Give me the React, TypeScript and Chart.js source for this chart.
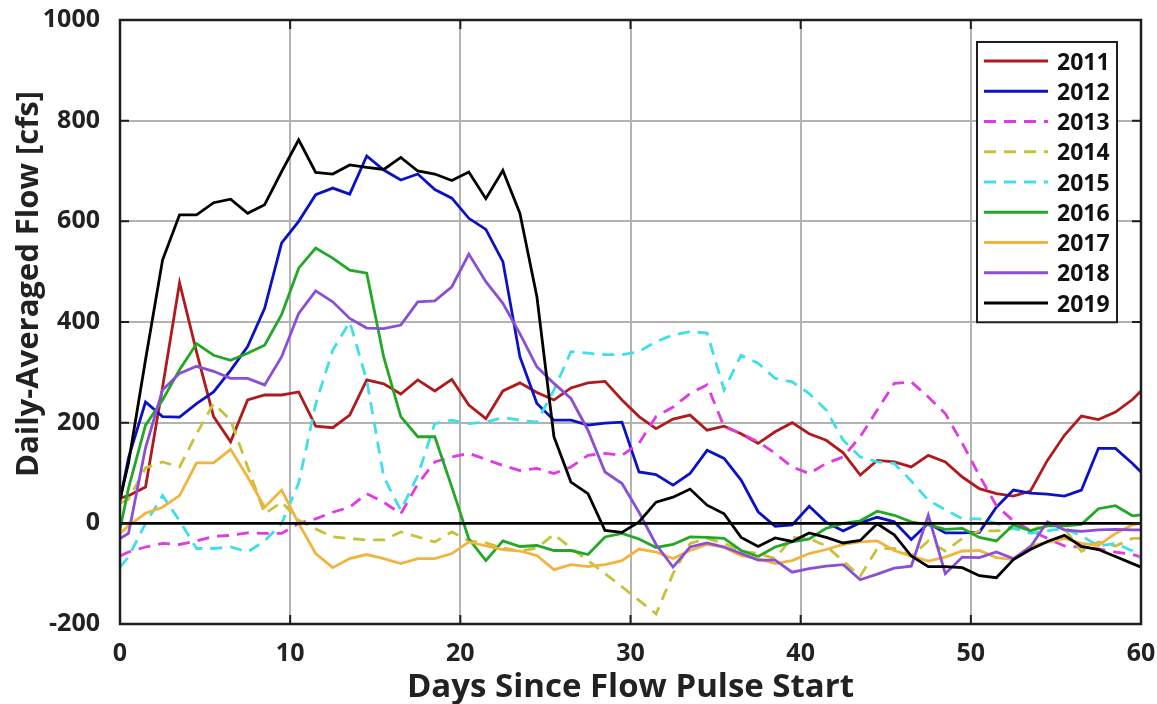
import React, { useEffect, useRef } from "react";
import { Chart, registerables } from "chart.js";

Chart.register(...registerables);

const FONT = "'Open Sans', 'DejaVu Sans', sans-serif";

// Sample times (days since the pulse started): the start, then daily half-day averages, then the end.
const days = [
  0, 0.5, 1.5, 2.5, 3.5, 4.5, 5.5, 6.5, 7.5, 8.5,
  9.5, 10.5, 11.5, 12.5, 13.5, 14.5, 15.5, 16.5, 17.5, 18.5,
  19.5, 20.5, 21.5, 22.5, 23.5, 24.5, 25.5, 26.5, 27.5, 28.5,
  29.5, 30.5, 31.5, 32.5, 33.5, 34.5, 35.5, 36.5, 37.5, 38.5,
  39.5, 40.5, 41.5, 42.5, 43.5, 44.5, 45.5, 46.5, 47.5, 48.5,
  49.5, 50.5, 51.5, 52.5, 53.5, 54.5, 55.5, 56.5, 57.5, 58.5,
  59.5, 60,
];

// Daily-averaged flow [cfs] per pulse year
const flow2011 = [
  50, 55, 72, 270, 478, 340, 212, 162, 245, 255,
  255, 261, 193, 190, 215, 285, 277, 257, 285, 263,
  286, 235, 208, 263, 279, 260, 245, 269, 279, 282,
  245, 212, 188, 207, 215, 185, 193, 178, 159, 182,
  200, 178, 165, 140, 96, 125, 122, 112, 135, 122,
  92, 69, 59, 54, 64, 125, 175, 213, 206, 221,
  246, 263,
];
const flow2012 = [
  45, 130, 241, 212, 211, 238, 261, 304, 351, 427,
  557, 600, 653, 666, 654, 730, 702, 682, 694, 663,
  646, 606, 584, 520, 331, 238, 205, 205, 195, 199,
  201, 102, 97, 76, 99, 145, 129, 86, 23, -6,
  -3, 34, 2, -15, 1, 12, 3, -32, 0, -19,
  -19, -18, 32, 66, 60, 58, 54, 66, 149, 149,
  119, 102,
];
const flow2013 = [
  -65, -57, -47, -40, -42, -35, -26, -24, -19, -20,
  -20, 0, 9, 22, 32, 59, 42, 19, 78, 122,
  132, 139, 127, 115, 105, 109, 99, 112, 135, 139,
  135, 159, 212, 231, 258, 275, 192, 178, 162, 139,
  112, 99, 119, 132, 172, 225, 278, 281, 251, 218,
  159, 95, 35, 5, -14, -30, -45, -47, -51, -57,
  -62, -67,
];
const flow2014 = [
  40, 48, 110, 122, 112, 178, 238, 205, 112, 19,
  42, 6, -11, -27, -30, -33, -33, -17, -27, -37,
  -17, -35, -39, -49, -55, -49, -22, -49, -74, -100,
  -126, -153, -180, -100, -40, -30, -40, -55, -60, -70,
  -28, -30, -45, -75, -105, -50, -50, -65, -35, -55,
  -30, -15, -15, -10, -15, 0, -10, -56, -37, -45,
  -30, -30,
];
const flow2015 = [
  -87, -67, 0, 55, 5, -50, -50, -47, -57, -35,
  0, 80, 237, 344, 400, 284, 92, 26, 95, 198,
  205, 198, 201, 210, 205, 201, 265, 341, 338, 335,
  335, 341, 361, 374, 381, 378, 265, 334, 318, 288,
  281, 258, 225, 165, 132, 122, 119, 84, 46, 27,
  9, 9, 0, -10, -20, -15, -10, -25, -45, -40,
  -55, -70,
];
const flow2016 = [
  -12, 70, 195, 245, 305, 357, 334, 324, 338, 354,
  415, 507, 547, 527, 503, 497, 330, 212, 172, 172,
  72, -31, -74, -35, -46, -44, -54, -54, -62, -27,
  -20, -31, -48, -42, -27, -28, -30, -54, -66, -47,
  -37, -31, -10, 0, 5, 24, 16, 3, -3, -12,
  -10, -28, -35, -3, -15, -5, -5, -2, 29, 35,
  15, 17,
];
const flow2017 = [
  -20, -5, 20, 32, 55, 120, 120, 147, 92, 32,
  66, 0, -60, -88, -70, -62, -70, -80, -70, -70,
  -60, -37, -45, -52, -55, -64, -92, -82, -86, -82,
  -74, -51, -57, -70, -54, -42, -48, -64, -70, -80,
  -74, -60, -52, -42, -37, -35, -54, -65, -75, -67,
  -55, -54, -68, -72, -45, -38, -30, -40, -44, -20,
  -3, 0,
];
const flow2018 = [
  -30, -20, 150, 265, 298, 312, 302, 288, 288, 275,
  331, 417, 462, 440, 407, 388, 387, 394, 440, 442,
  470, 535, 480, 437, 377, 311, 278, 248, 185, 102,
  79, 22, -42, -87, -47, -39, -47, -60, -73, -73,
  -97, -90, -85, -82, -112, -101, -89, -85, 16, -100,
  -67, -68, -57, -70, -47, 3, -13, -16, -13, -12,
  -13, -13,
];
const flow2019 = [
  48, 120, 325, 523, 613, 613, 637, 644, 616, 633,
  699, 762, 697, 694, 712, 707, 703, 727, 700, 694,
  681, 698, 645, 701, 616, 450, 172, 82, 59, -14,
  -18, 3, 42, 52, 68, 36, 19, -28, -46, -29,
  -36, -19, -28, -39, -34, -1, -23, -65, -86, -86,
  -88, -104, -108, -72, -52, -36, -24, -46, -52, -66,
  -80, -87,
];

const years = ["2011", "2012", "2013", "2014", "2015", "2016", "2017", "2018", "2019"];
const seriesValues = [flow2011, flow2012, flow2013, flow2014, flow2015, flow2016, flow2017, flow2018, flow2019];
const lineColors = ["#b01a1c", "#0b12c6", "#e03ae4", "#c6c23a", "#40dfe8", "#22a826", "#f1b43e", "#8b4fd6", "#000000"];
const isDashed = [false, false, true, true, true, false, false, false, false];

const xTicks = [0, 10, 20, 30, 40, 50, 60];
const yTicks = [-200, 0, 200, 400, 600, 800, 1000];

const yTitle = "Daily-Averaged Flow [cfs]";

const DASH = [12, 8];

// Axes box with inward tick marks, the y label, and the boxed legend.
const boxPlugin = {
  id: "boxFrame",
  afterDatasetsDraw(chart: any) {
    const { ctx, chartArea: a, scales } = chart;
    ctx.save();
    ctx.strokeStyle = "#1e1e1e";
    ctx.lineWidth = 2.5;
    ctx.strokeRect(a.left, a.top, a.right - a.left, a.bottom - a.top);
    ctx.lineWidth = 2;
    const len = 9;
    ctx.beginPath();
    for (const t of xTicks) {
      const px = scales.x.getPixelForValue(t);
      ctx.moveTo(px, a.bottom);
      ctx.lineTo(px, a.bottom - len);
      ctx.moveTo(px, a.top);
      ctx.lineTo(px, a.top + len);
    }
    for (const t of yTicks) {
      const py = scales.y.getPixelForValue(t);
      ctx.moveTo(a.left, py);
      ctx.lineTo(a.left + len, py);
      ctx.moveTo(a.right, py);
      ctx.lineTo(a.right - len, py);
    }
    ctx.stroke();
    ctx.restore();
  },
  afterDraw(chart: any) {
    const { ctx, chartArea: a } = chart;

    // y-axis label
    ctx.save();
    ctx.translate(29, 284);
    ctx.rotate(-Math.PI / 2);
    ctx.font = `bold 31px ${FONT}`;
    ctx.fillStyle = "#222222";
    ctx.textAlign = "center";
    ctx.textBaseline = "middle";
    ctx.fillText(yTitle, 0, 0);
    ctx.restore();

    // legend
    const entries = chart.data.datasets.filter((d: any) => d.inLegend);
    const w = 140;
    const rowH = 30.25;
    const h = rowH * entries.length + 8;
    const x0 = a.right - 164;
    const y0 = a.top + 22;
    ctx.save();
    ctx.fillStyle = "#ffffff";
    ctx.fillRect(x0, y0, w, h);
    ctx.strokeStyle = "#1e1e1e";
    ctx.lineWidth = 2;
    ctx.strokeRect(x0, y0, w, h);
    ctx.font = `bold 23px ${FONT}`;
    ctx.textBaseline = "middle";
    ctx.textAlign = "left";
    entries.forEach((d: any, i: number) => {
      const cy = y0 + 19 + i * rowH;
      ctx.beginPath();
      ctx.setLineDash(d.borderDash || []);
      ctx.strokeStyle = d.borderColor;
      ctx.lineWidth = 3;
      ctx.moveTo(x0 + 7, cy);
      ctx.lineTo(x0 + 71, cy);
      ctx.stroke();
      ctx.setLineDash([]);
      ctx.fillStyle = "#111111";
      ctx.fillText(d.label, x0 + 80, cy + 2);
    });
    ctx.restore();
  },
};

export default function App() {
  const canvasRef = useRef<HTMLCanvasElement | null>(null);

  useEffect(() => {
    const canvas = canvasRef.current;
    if (!canvas) return;

    const yearSets = years.map((label, i) => ({
      label,
      inLegend: true,
      data: days.map((d, j) => ({ x: d, y: seriesValues[i][j] })),
      borderColor: lineColors[i],
      backgroundColor: lineColors[i],
      borderWidth: 2.8,
      borderDash: isDashed[i] ? DASH : [],
      pointRadius: 0,
      tension: 0,
      fill: false,
      order: years.length - i,
    }));

    const zeroLine = {
      label: "zero",
      inLegend: false,
      data: [
        { x: 0, y: 0 },
        { x: 60, y: 0 },
      ],
      borderColor: "#000000",
      borderWidth: 2.6,
      pointRadius: 0,
      fill: false,
      order: 0,
    };

    const chart = new Chart(canvas, {
      type: "line",
      data: { datasets: [zeroLine, ...yearSets] as any },
      options: {
        responsive: false,
        animation: false,
        devicePixelRatio: 1,
        layout: { padding: { top: 20, right: 16, left: 0, bottom: 0 } },
        plugins: {
          legend: { display: false },
          tooltip: { enabled: false },
        },
        scales: {
          x: {
            type: "linear",
            min: 0,
            max: 60,
            afterFit: (s: any) => {
              s.height = 80;
              s.paddingLeft = 0;
              s.paddingRight = 0;
            },
            afterBuildTicks: (s: any) => {
              s.ticks = xTicks.map((v) => ({ value: v }));
            },
            ticks: {
              color: "#222222",
              padding: 15,
              font: { family: FONT, size: 25, weight: "bold" },
              callback: (v: any) => String(v),
            },
            grid: { color: "#b3b3b3", lineWidth: 2, drawTicks: false },
            border: { display: false },
            title: {
              display: true,
              text: "Days Since Flow Pulse Start",
              color: "#222222",
              padding: { top: 0, bottom: 0 },
              font: { family: FONT, size: 33, weight: "bold", lineHeight: 1 },
            },
          },
          y: {
            type: "linear",
            min: -200,
            max: 1000,
            afterFit: (s: any) => {
              s.width = 120;
              s.paddingTop = 0;
              s.paddingBottom = 0;
            },
            afterBuildTicks: (s: any) => {
              s.ticks = yTicks.map((v) => ({ value: v }));
            },
            ticks: {
              color: "#222222",
              padding: 20,
              font: { family: FONT, size: 25, weight: "bold" },
              callback: (v: any) => String(v),
            },
            grid: { color: "#b3b3b3", lineWidth: 2, drawTicks: false },
            border: { display: false },
          },
        },
      },
      plugins: [boxPlugin],
    });

    return () => chart.destroy();
  }, []);

  return (
    <div style={{ position: "absolute", left: 0, top: 0, width: 1157, height: 704, background: "#ffffff" }}>
      <canvas ref={canvasRef} width={1157} height={704} />
    </div>
  );
}
